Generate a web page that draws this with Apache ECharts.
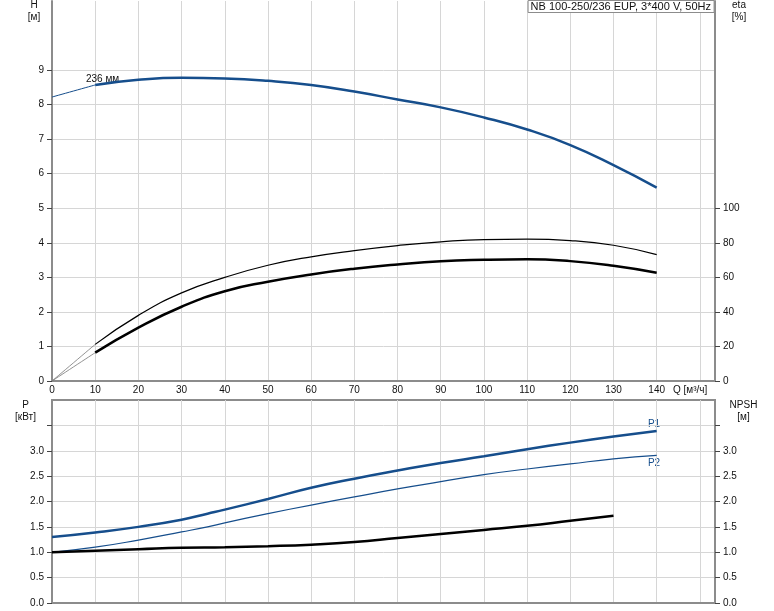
<!DOCTYPE html>
<html>
<head>
<meta charset="utf-8">
<script src="https://cdn.jsdelivr.net/npm/echarts@6/dist/echarts.min.js"></script>
<style>html,body{margin:0;padding:0;background:#fff}#c{width:774px;height:611px}</style>
</head>
<body>
<div id="c"></div>
<script>
// ---- data ----
const qH = [0,10,20,30,40,50,60,70,80,90,100,110,120,130,140];
const hVals = [8.22,8.57,8.72,8.78,8.76,8.69,8.57,8.38,8.15,7.92,7.63,7.28,6.83,6.25,5.6];
const qEta = [10,20,30,40,50,60,70,80,90,100,110,120,130,140];
const etaPump = [21.2,38,51,60,67,71.9,75.5,78.4,80.6,81.9,82.1,81.3,78.6,73.2];
const etaTotal = [16.4,30.9,43,52,57.5,61.7,65,67.5,69.4,70.2,70.5,69.4,66.7,62.7];
const qP = [0,10,20,30,36,40,50,60,70,80,90,100,110,120,130,140];
const p1 = [1.30,1.39,1.50,1.64,1.76,1.84,2.05,2.27,2.45,2.61,2.76,2.89,3.03,3.16,3.28,3.39];
const p2 = [1.00,1.10,1.24,1.40,1.50,1.58,1.76,1.93,2.09,2.25,2.39,2.53,2.64,2.74,2.84,2.91];
const qN = [0,10,20,30,40,50,60,70,80,90,100,110,120,130];
const npsh = [1.00,1.03,1.06,1.09,1.10,1.12,1.15,1.20,1.28,1.36,1.44,1.52,1.62,1.72];
const xTicks = [0,10,20,30,40,50,60,70,80,90,100,110,120,130,140];
const hTicks = [0,1,2,3,4,5,6,7,8,9];
const etaTicks = [0,20,40,60,80,100];
const pTicks = [0,0.5,1,1.5,2,2.5,3];
const pTickMarks = [0,0.5,1,1.5,2,2.5,3,3.5];
const title = 'NB 100-250/236 EUP, 3*400 V, 50Hz';

const zip = (xs, ys) => ys.map((v, i) => [xs[i], v]);

const BLUE = '#164e8c';
const AX = '#8c8c8c';
const GRID = '#d6d6d6';
const FONT = 'Liberation Sans, Arial, sans-serif';

const xBase = (gi, showLabels) => ({
  type: 'value', gridIndex: gi, min: 0, max: 153.5, interval: 10,
  axisLine: {show: true, onZero: false, lineStyle: {color: AX, width: 2}},
  axisTick: {show: false},
  axisLabel: showLabels ? {show: true, customValues: xTicks, color: '#111', fontSize: 10, fontFamily: FONT, margin: 4} : {show: false},
  splitLine: {show: true, lineStyle: {color: GRID, width: 1}}
});

const yBase = (gi, pos, min, max, interval, labels, ticks, fmt, split) => ({
  type: 'value', gridIndex: gi, position: pos, min, max, interval,
  axisLine: {show: true, onZero: false, lineStyle: {color: AX, width: 2}},
  axisTick: {show: true, customValues: ticks, length: 5, lineStyle: {color: '#444', width: 1}},
  axisLabel: {show: true, customValues: labels, color: '#111', fontSize: 10, fontFamily: FONT, margin: 8, formatter: fmt},
  splitLine: {show: split, lineStyle: {color: GRID, width: 1}}
});

const line = (name, xi, yi, data, color, width) => ({
  name, type: 'line', xAxisIndex: xi, yAxisIndex: yi, data, smooth: true,
  showSymbol: false, symbol: 'none', lineStyle: {color, width}, itemStyle: {color}, z: 5
});

const option = {
  animation: false,
  backgroundColor: '#fff',
  textStyle: {fontFamily: FONT},
  title: {
    text: title, right: 60, top: 0,
    borderColor: AX, borderWidth: 1, padding: [1, 3, 1, 3], backgroundColor: '#fff',
    textStyle: {fontSize: 11, fontWeight: 'normal', color: '#111', fontFamily: FONT}
  },
  grid: [
    {left: 52, right: 59, top: 1, height: 380},
    {left: 52, right: 59, top: 400, height: 203, show: true, borderColor: AX, borderWidth: 2, backgroundColor: 'transparent'}
  ],
  xAxis: [xBase(0, true), xBase(1, false)],
  yAxis: [
    yBase(0, 'left', 0, 11, 1, hTicks, hTicks, v => String(v), true),
    yBase(0, 'right', 0, 220, 20, etaTicks, etaTicks, v => String(v), false),
    yBase(1, 'left', 0, 4, 0.5, pTicks, pTickMarks, v => v.toFixed(1), true),
    yBase(1, 'right', 0, 4, 0.5, pTicks, pTickMarks, v => v.toFixed(1), false)
  ],
  series: [
    line('H start', 0, 0, zip(qH, hVals).slice(0, 2), BLUE, 1),
    line('H', 0, 0, zip(qH, hVals).slice(1), BLUE, 2.5),
    line('eta start', 0, 1, [[0, 0], [qEta[0], etaPump[0]]], '#777', 0.8),
    line('eta tot start', 0, 1, [[0, 0], [qEta[0], etaTotal[0]]], '#777', 0.8),
    line('eta', 0, 1, zip(qEta, etaPump), '#000', 1.2),
    line('eta total', 0, 1, zip(qEta, etaTotal), '#000', 2.5),
    line('P1', 1, 2, zip(qP, p1), BLUE, 2.5),
    line('P2', 1, 2, zip(qP, p2), BLUE, 1.2),
    line('NPSH', 1, 3, zip(qN, npsh), '#000', 2.5)
  ],
  graphic: [
    {type: 'text', x: 34, y: 5, style: {text: 'H', font: '10px ' + FONT, fill: '#111', align: 'center', verticalAlign: 'middle'}},
    {type: 'text', x: 34, y: 17, style: {text: '[м]', font: '10px ' + FONT, fill: '#111', align: 'center', verticalAlign: 'middle'}},
    {type: 'text', x: 739, y: 5, style: {text: 'eta', font: '10px ' + FONT, fill: '#111', align: 'center', verticalAlign: 'middle'}},
    {type: 'text', x: 739, y: 17.5, style: {text: '[%]', font: '10px ' + FONT, fill: '#111', align: 'center', verticalAlign: 'middle'}},
    {type: 'text', x: 25.5, y: 405, style: {text: 'P', font: '10px ' + FONT, fill: '#111', align: 'center', verticalAlign: 'middle'}},
    {type: 'text', x: 25.5, y: 417, style: {text: '[кВт]', font: '10px ' + FONT, fill: '#111', align: 'center', verticalAlign: 'middle'}},
    {type: 'text', x: 743.5, y: 405, style: {text: 'NPSH', font: '10px ' + FONT, fill: '#111', align: 'center', verticalAlign: 'middle'}},
    {type: 'text', x: 743.5, y: 417, style: {text: '[м]', font: '10px ' + FONT, fill: '#111', align: 'center', verticalAlign: 'middle'}},
    {type: 'text', x: 673, y: 390, style: {text: 'Q [м³/ч]', font: '10px ' + FONT, fill: '#111', align: 'left', verticalAlign: 'middle'}},
    {type: 'text', x: 86, y: 79, z: 1, style: {text: '236 мм', font: '10px ' + FONT, fill: '#111', align: 'left', verticalAlign: 'middle'}},
    {type: 'text', x: 654, y: 424, style: {text: 'P1', font: '10px ' + FONT, fill: BLUE, align: 'center', verticalAlign: 'middle'}},
    {type: 'text', x: 654, y: 463.5, style: {text: 'P2', font: '10px ' + FONT, fill: BLUE, align: 'center', verticalAlign: 'middle'}}
  ]
};

const chart = echarts.init(document.getElementById('c'), null, {renderer: 'canvas'});
chart.setOption(option);
</script>
</body>
</html>
